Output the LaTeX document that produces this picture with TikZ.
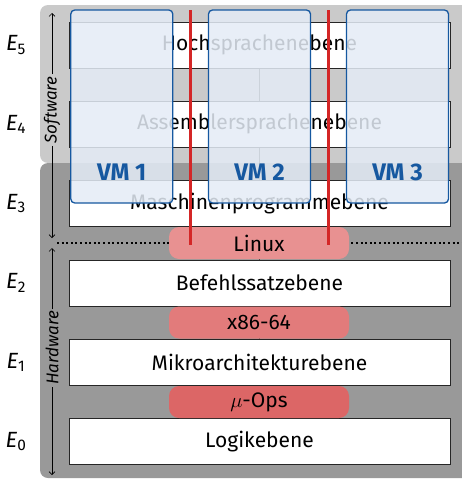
\documentclass[tikz,border=0pt]{standalone}
\usepackage{fontspec}
\setmainfont{Fira Sans}
\usetikzlibrary{arrows.meta}
\definecolor{swgray}{RGB}{202,202,202}
\definecolor{hwgray}{RGB}{153,153,153}
\definecolor{linuxc}{RGB}{232,145,145}
\definecolor{x86c}{RGB}{226,123,123}
\definecolor{uopc}{RGB}{220,102,102}
\definecolor{redl}{RGB}{212,38,38}
\definecolor{vmfill}{RGB}{228,236,246}
\definecolor{vmblue}{RGB}{22,88,160}
\begin{document}
\begin{tikzpicture}[x=1pt,y=-1pt,
  bigfont/.style={font=\fontsize{21}{24}\selectfont},
  layerbox/.style={draw=black!85, line width=0.9pt, fill=white, minimum width=381pt,
    minimum height=46pt, inner sep=0pt, bigfont},
  pillbox/.style={rounded corners=10pt, minimum width=180pt, minimum height=32pt,
    inner sep=0pt, bigfont},
  vmbox/.style={draw=vmblue, line width=1.3pt, fill=vmfill, fill opacity=0.85,
    rounded corners=4pt, minimum width=102pt, minimum height=193pt, inner sep=0pt},
  vmlabel/.style={text=vmblue, font=\fontsize{24}{26}\selectfont\bfseries},
  elabel/.style={font=\fontsize{22}{24}\selectfont, inner sep=0pt},
  sidelabel/.style={rotate=90, font=\fontsize{17}{19}\selectfont\itshape, inner sep=2pt},
  sidearrow/.style={black, line width=0.6pt, -{Straight Barb[length=3pt,width=6pt]}},
  redline/.style={draw=redl, line width=3pt},
  dotline/.style={black, line width=2pt, dash pattern=on 2pt off 2.6pt},
]
\useasboundingbox (0,0) rectangle (462,479);
% backgrounds
\fill[swgray, rounded corners=8pt] (40,5) rectangle (480,163);
\fill[hwgray, rounded corners=8pt] (40,163) rectangle (480,478);
% center line
\coordinate (ctop) at (259.5,68);
\coordinate (cbot) at (259.5,419);
\draw[black!75, line width=0.8pt] (ctop) -- (cbot);
% layers
\node[layerbox] (L5) at (259.5,45) {Hochsprachenebene};
\node[layerbox] (L4) at (259.5,124.3) {Assemblersprachenebene};
\node[layerbox] (L3) at (259.5,203.6) {Maschinenprogrammebene};
\node[layerbox] (L2) at (259.5,283) {Befehlssatzebene};
\node[layerbox] (L1) at (259.5,362.2) {Mikroarchitekturebene};
\node[layerbox] (L0) at (259.5,441.5) {Logikebene};
% dotted line
\coordinate (dl) at (57,243);
\coordinate (dr) at (462,243);
\draw[dotline] (dl) -- (dr);
% pills
\node[pillbox, fill=linuxc] (linux) at (259,243) {Linux};
\node[pillbox, fill=x86c] (x86) at (259,322.5) {x86-64};
\node[pillbox, fill=uopc] (uop) at (259,402) {$\mu$-Ops};
% VMs
\node[vmbox] (vm1) at (121.8,106.5) {};
\node[vmbox] (vm2) at (259.5,106.5) {};
\node[vmbox] (vm3) at (397.5,106.5) {};
\node[vmlabel] (vl1) at ([yshift=31pt]vm1.south) {VM 1};
\node[vmlabel] (vl2) at ([yshift=31pt]vm2.south) {VM 2};
\node[vmlabel] (vl3) at ([yshift=31pt]vm3.south) {VM 3};
% red lines
\coordinate (r1t) at (190.5,10);
\coordinate (r1b) at (190.5,245);
\coordinate (r2t) at (328.5,10);
\coordinate (r2b) at (328.5,245);
\draw[redline] (r1t) -- (r1b);
\draw[redline] (r2t) -- (r2b);
% E labels
\node[elabel] (e5) at (16,45) {\textit{E}\textsubscript{5}};
\node[elabel] (e4) at (16,124.3) {\textit{E}\textsubscript{4}};
\node[elabel] (e3) at (16,203.6) {\textit{E}\textsubscript{3}};
\node[elabel] (e2) at (16,283) {\textit{E}\textsubscript{2}};
\node[elabel] (e1) at (16,362.2) {\textit{E}\textsubscript{1}};
\node[elabel] (e0) at (16,441.5) {\textit{E}\textsubscript{0}};
% side arrows
\node[sidelabel] (sw) at (52,110) {Software};
\coordinate (swt) at (52,13);
\coordinate (swb) at (52,238);
\draw[sidearrow] (sw.east) -- (swt);
\draw[sidearrow] (sw.west) -- (swb);
\node[sidelabel] (hw) at (52,348) {Hardware};
\coordinate (hwt) at (52,248);
\coordinate (hwb) at (52,475);
\draw[sidearrow] (hw.east) -- (hwt);
\draw[sidearrow] (hw.west) -- (hwb);
\end{tikzpicture}
\end{document}
